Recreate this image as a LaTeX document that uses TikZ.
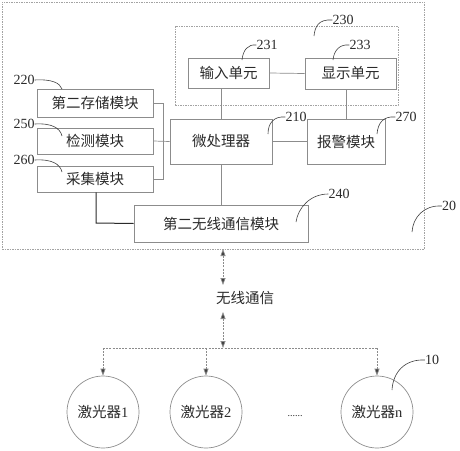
\documentclass[tikz,border=0pt]{standalone}
\usepackage{fontspec}
\setmainfont{Liberation Serif}
\newfontfamily\cjk{Noto Sans CJK SC}
\usetikzlibrary{arrows.meta}
\definecolor{ln}{HTML}{8C8C8C}
\definecolor{tx}{HTML}{2A2A2A}
\begin{document}
\begin{tikzpicture}[x=1pt,y=-1pt,
  cjkf/.style={font=\cjk\fontsize{14.5}{15}\selectfont},
  box/.style={draw=ln,line width=0.7pt,inner sep=0pt,cjkf,text=tx},
  frame/.style={draw=ln!80,line width=0.6pt,dash pattern=on 1.5pt off 1pt},
  wire/.style={draw=ln,line width=0.7pt},
  lab/.style={font=\fontsize{14}{15}\selectfont,text=tx,inner sep=0pt},
  lead/.style={draw=tx!90,line width=0.6pt},
  dl/.style={draw=ln,line width=0.7pt,dash pattern=on 2pt off 1.2pt},
  hd/.tip={Triangle[length=7pt,width=5pt,fill=tx!90]},
  tip/.style={-hd},
  laser/.style={circle,draw=ln,line width=0.7pt,minimum size=72pt,inner sep=0pt,cjkf,text=tx}
]
\useasboundingbox (0,0) rectangle (460,450);
% frames
\node[frame,minimum width=422pt,minimum height=247pt,inner sep=0pt] (f20) at (213,125.5) {};
\node[frame,minimum width=223pt,minimum height=79pt,inner sep=0pt] (f230) at (286.5,65.5) {};
% boxes
\node[box,minimum width=116pt,minimum height=28pt] (m220) at (95,103) {第二存储模块};
\node[box,minimum width=116pt,minimum height=26pt] (m250) at (95,141) {检测模块};
\node[box,minimum width=116pt,minimum height=26pt] (m260) at (95,179) {采集模块};
\node[box,minimum width=102pt,minimum height=45pt] (cpu) at (221,141.5) {微处理器};
\node[box,minimum width=78pt,minimum height=45pt] (alarm) at (346,141.5) {报警模块};
\node[box,minimum width=81pt,minimum height=30pt] (inp) at (228.5,73) {输入单元};
\node[box,minimum width=91pt,minimum height=31pt] (disp) at (350.5,73.5) {显示单元};
\node[box,minimum width=174pt,minimum height=37pt] (wl) at (221,223.5) {第二无线通信模块};
% wires
\coordinate (bus) at (163,141);
\draw[wire] (m220.east) -- (m220.east -| bus) -- (m260.east -| bus) -- (m260.east);
\draw[wire] (m250.east) -- (cpu.west);
\draw[wire] (inp.east) -- (disp.west);
\draw[wire] (cpu.north) -- (cpu.north |- inp.south);
\draw[wire] (alarm.north) -- (alarm.north |- disp.south);
\draw[wire] (cpu.east) -- (alarm.west);
\draw[wire] (cpu.south) -- (wl.north);
\coordinate (bend) at (96,223);
\draw[draw=tx,line width=1pt] (m260.south -| bend) -- (bend) -- (wl.west);
% wireless
\node[cjkf,text=tx,inner sep=0pt] (wtxt) at (245,298) {无线通信};
\coordinate (a1) at (223,249);
\coordinate (a2) at (223,285);
\coordinate (a3) at (223,312);
\coordinate (j) at (223,348);
\draw[dl,hd-hd] (a1) -- (a2);
\draw[dl,hd-hd] (a3) -- (j);
% lasers
\node[laser] (c1) at (103,412) {激光器\fontspec{Liberation Serif}1};
\node[laser] (c2) at (206,412) {激光器\fontspec{Liberation Serif}2};
\node[laser] (cn) at (377,412) {激光器\fontspec{Liberation Serif}n};
\node[lab,font=\fontsize{10}{10}\selectfont] (dots) at (295,416) {......};
\draw[dl] (c1.north |- j) -- (cn.north |- j);
\draw[dl,tip] (c1.north |- j) -- (c1.north);
\draw[dl,tip] (c2.north |- j) -- (c2.north);
\draw[dl,tip] (cn.north |- j) -- (cn.north);
% labels
\node[lab] (l220) at (24,80) {220};
\draw[lead] (l220.east) .. controls (52,79) and (60,83) .. (62,89);
\node[lab] (l250) at (24,124) {250};
\draw[lead] (l250.east) .. controls (52,123) and (60,128) .. (62,136);
\node[lab] (l260) at (24,160) {260};
\draw[lead] (l260.east) .. controls (52,159) and (60,164) .. (62,172);
\node[lab] (l230) at (343,20) {230};
\draw[lead] (l230.west) .. controls (318,19) and (315,27) .. (314,36);
\node[lab] (l231) at (267,45) {231};
\draw[lead] (l231.west) .. controls (248,44) and (243,50) .. (242,60);
\node[lab] (l233) at (360,45) {233};
\draw[lead] (l233.west) .. controls (340,44) and (334,50) .. (333,60);
\node[lab] (l210) at (296,117) {210};
\draw[lead] (l210.west) .. controls (274,116) and (268,123) .. (268,134);
\node[lab] (l270) at (406,117) {270};
\draw[lead] (l270.west) .. controls (383,116) and (378,123) .. (377,134);
\node[lab] (l240) at (339,194) {240};
\draw[lead] (l240.west) .. controls (310,194) and (298,208) .. (296,222);
\node[lab] (l20) at (449,206) {20};
\draw[lead] (l20.west) .. controls (424,205) and (413,217) .. (412,232);
\node[lab] (l10) at (432,360) {10};
\draw[lead] (l10.west) .. controls (405,359) and (393,372) .. (392,390);
\end{tikzpicture}
\end{document}
